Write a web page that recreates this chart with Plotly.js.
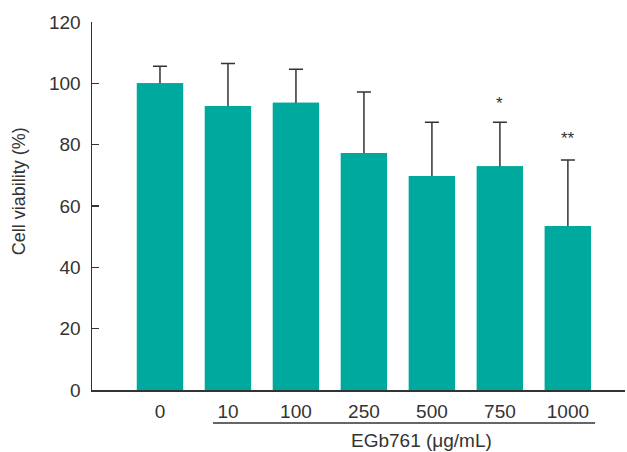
<!DOCTYPE html>
<html><head><meta charset="utf-8">
<script src="https://cdn.plot.ly/plotly-3.0.1.min.js"></script>
<style>html,body{margin:0;padding:0;background:#fff;}#chart{width:627px;height:452px;}</style>
</head><body><div id="chart"></div>
<script>
const categories = ["0", "10", "100", "250", "500", "750", "1000"];
const viability = [100, 92.6, 93.7, 77.3, 69.8, 73.0, 53.5];
const sdError = [5.6, 13.9, 10.9, 19.9, 17.5, 14.3, 21.5];
const sigLabels = ["", "", "", "", "", "*", "**"];
const sigY = [0, 0, 0, 0, 0, 93.5, 82];

const FONT = "'Liberation Sans', Arial, sans-serif";
const annotations = [];
sigLabels.forEach((t, i) => {
  if (t) annotations.push({x: i, y: sigY[i], xref: 'x', yref: 'y', text: t, showarrow: false,
    font: {family: FONT, size: 17, color: '#333'}});
});
annotations.push({xref: 'paper', yref: 'paper', x: -0.137, y: 0.54, xanchor: 'center', yanchor: 'middle',
  textangle: -90, text: 'Cell viability (%)', showarrow: false, font: {family: FONT, size: 18, color: '#333'}});
annotations.push({xref: 'paper', yref: 'paper', x: 0.618, y: -0.138, xanchor: 'center', yanchor: 'middle',
  text: 'EGb761 (μg/mL)', showarrow: false, font: {family: FONT, size: 19, color: '#333'}});

const data = [{
  type: 'bar', x: categories, y: viability,
  marker: {color: '#00A99D'}, width: 0.68, hoverinfo: 'skip',
  error_y: {type: 'data', symmetric: false, array: sdError, arrayminus: viability,
    color: '#333', thickness: 1.5, width: 7}
}, {
  type: 'bar', x: categories, y: viability,
  marker: {color: '#00A99D'}, width: 0.68, hoverinfo: 'skip'
}];

const layout = {
  width: 627, height: 452,
  margin: {l: 92, r: 2, t: 22, b: 62},
  paper_bgcolor: '#fff', plot_bgcolor: '#fff',
  showlegend: false, barmode: 'overlay',
  font: {family: FONT, size: 19, color: '#333'},
  xaxis: {type: 'category', range: [-1, 6.84], showline: true, linecolor: '#333', linewidth: 1.5,
    ticks: '', showgrid: false, zeroline: false, ticklabelstandoff: 4},
  yaxis: {range: [0, 120], dtick: 20, showline: true, linecolor: '#333', linewidth: 1.5,
    ticks: 'inside', ticklen: 7, tickwidth: 1.5, tickcolor: '#333', showgrid: false, zeroline: false,
    ticklabelstandoff: 6},
  shapes: [{type: 'line', xref: 'x', yref: 'paper', x0: 0.78, x1: 6.4, y0: -0.09, y1: -0.09,
    line: {color: '#333', width: 1.5}}],
  annotations: annotations
};
Plotly.newPlot('chart', data, layout, {displayModeBar: false, staticPlot: true});
</script></body></html>
